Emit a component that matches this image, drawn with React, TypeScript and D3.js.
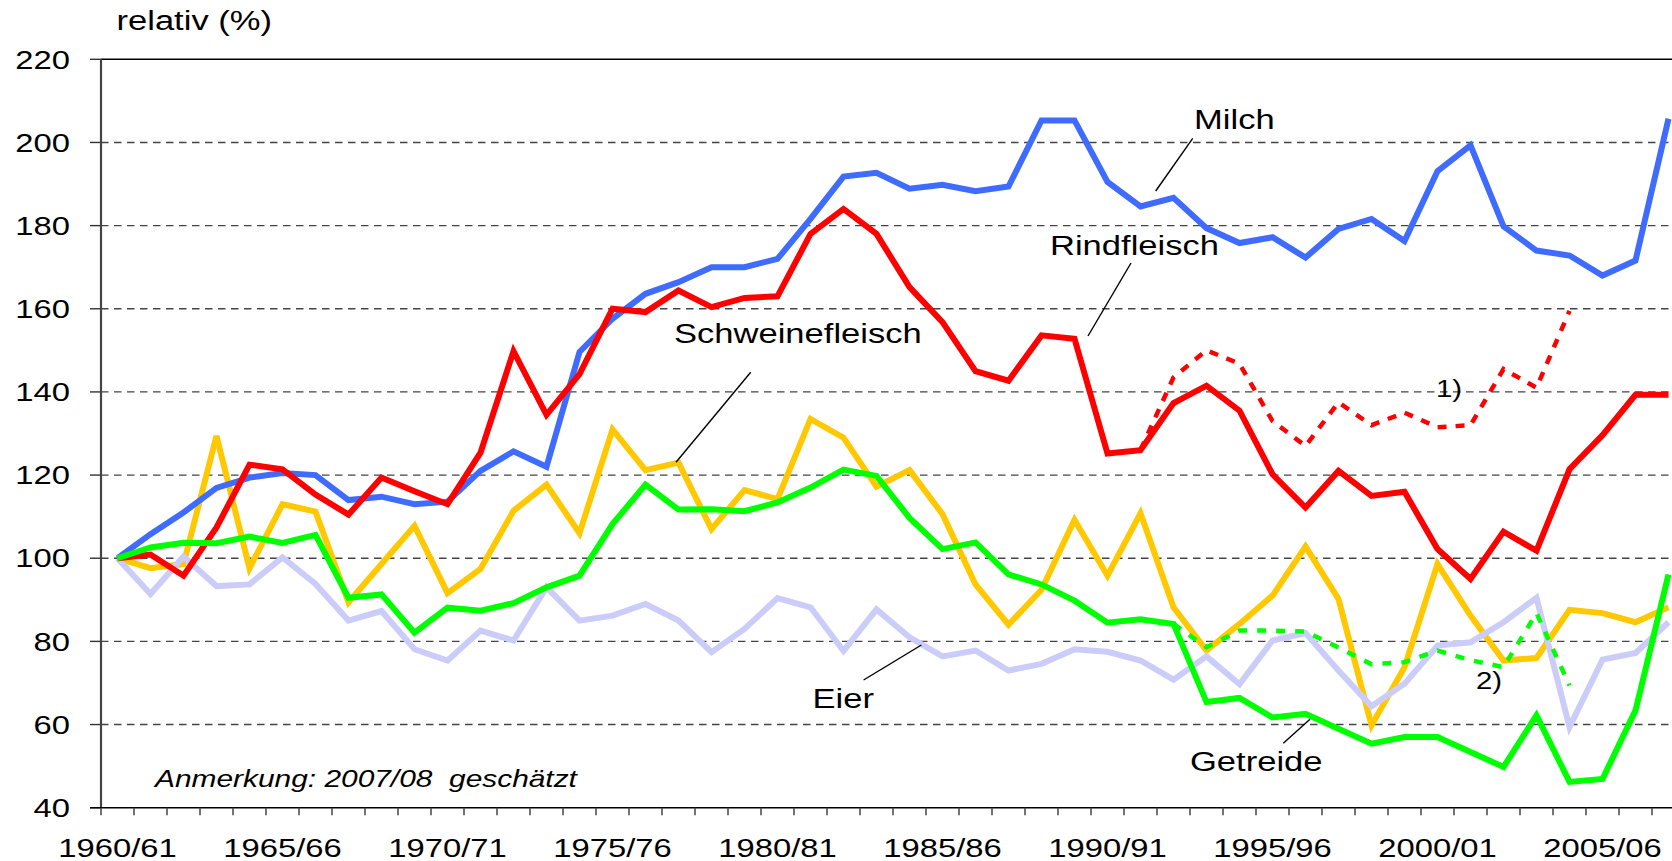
import React from "react";
import * as d3 from "d3";

const years = [
  1960, 1961, 1962, 1963, 1964, 1965, 1966, 1967, 1968, 1969,
  1970, 1971, 1972, 1973, 1974, 1975, 1976, 1977, 1978, 1979,
  1980, 1981, 1982, 1983, 1984, 1985, 1986, 1987, 1988, 1989,
  1990, 1991, 1992, 1993, 1994, 1995, 1996, 1997, 1998, 1999,
  2000, 2001, 2002, 2003, 2004, 2005, 2006, 2007,
];

const milch = [
  100, 105.8, 111, 116.9, 119.4, 120.5, 120, 114, 114.8, 113,
  113.6, 121, 125.7, 122, 149.6, 157.6, 163.6, 166.4, 170, 170,
  172, 181.6, 191.8, 192.7, 188.9, 189.8, 188.3, 189.4, 205.3, 205.3,
  190.5, 184.6, 186.7, 179.4, 175.8, 177.2, 172.3, 179.2, 181.6, 176.3,
  193.1, 199.3, 179.8, 174, 172.8, 168, 171.6, 205.7,
];

const rindfleisch = [
  100, 100.9, 95.8, 107.4, 122.5, 121.4, 115.3, 110.5, 119.4, 116.1,
  113, 125.4, 149.8, 134.5, 144.3, 160, 159.2, 164.4, 160.4, 162.6,
  163, 178, 184, 178, 165.2, 156.8, 145, 142.7, 153.6, 152.8,
  125.2, 126, 137.3, 141.5, 135.5, 120.2, 112.2, 121, 115, 116,
  102.2, 95, 106.4, 101.8, 121.4, 129.6, 139.3, 139.3,
];

// 1) variant, 1991/92 – 2004/05
const rindfleischAlt = [
  null, null, null, null, null, null, null, null, null, null,
  null, null, null, null, null, null, null, null, null, null,
  null, null, null, null, null, null, null, null, null, null,
  null, 126, 143.5, 150, 146.8, 133, 127, 137.5, 132, 135,
  131.5, 132, 145.5, 141, 159.5, null, null, null,
];

const schweinefleisch = [
  100, 97.6, 98.6, 129.4, 97.6, 113, 111.2, 89.4, 98.6, 107.8,
  91.6, 97.4, 111.4, 117.7, 106, 131, 121.2, 123, 107, 116.4,
  114.2, 133.5, 129, 117.2, 121.2, 110.6, 93.7, 84, 92.4, 109.2,
  95.8, 110.8, 88.2, 77.8, 84.2, 91, 102.8, 90.2, 59.8, 73.8,
  98.6, 86.2, 75.4, 76, 87.6, 86.8, 84.6, 88.2,
];

const getreide = [
  100, 102.6, 103.7, 103.6, 105.2, 103.7, 105.6, 90.5, 91.3, 82.1,
  88.1, 87.4, 89.2, 93, 95.8, 108.2, 117.7, 111.7, 111.8, 111.3,
  113.4, 117, 121.3, 119.8, 109.7, 102.2, 103.8, 96.1, 93.7, 89.8,
  84.5, 85.3, 84.2, 65.4, 66.4, 61.7, 62.6, 59, 55.4, 57,
  57, 53.4, 49.8, 62.2, 46.2, 46.9, 63.4, 96.1,
];

// 2) variant, 1992/93 – 2004/05
const getreideAlt = [
  null, null, null, null, null, null, null, null, null, null,
  null, null, null, null, null, null, null, null, null, null,
  null, null, null, null, null, null, null, null, null, null,
  null, null, 84.2, 78.6, 82.6, 82.6, 82.4, 78.5, 74.5, 75,
  77.8, 75.5, 73.8, 86.8, 69.4, null, null, null,
];

const eier = [
  100, 91.4, 100.4, 93.3, 93.7, 100.2, 93.8, 85, 87.3, 78.1,
  75.4, 82.6, 80.2, 93, 85, 86.2, 89, 85, 77.4, 83,
  90.4, 88.2, 77.7, 87.7, 81, 76.4, 77.8, 73, 74.6, 78.1,
  77.5, 75.4, 70.8, 76.4, 69.7, 80.2, 82, 73, 64.4, 69.8,
  79, 79.8, 84.6, 90.5, 59.4, 75.6, 77.2, 84.6,
];

const yTicks = [40, 60, 80, 100, 120, 140, 160, 180, 200, 220];
const xLabelYears = [1960, 1965, 1970, 1975, 1980, 1985, 1990, 1995, 2000, 2005];

const W = 1672;
const H = 861;
const FONT = "'Liberation Sans', Arial, Helvetica, sans-serif";
const SX = 1.28;

type Series = { values: (number | null)[]; color: string; width: number; dash?: string };

const seriesList: Series[] = [
  { values: schweinefleisch, color: "#FFC800", width: 6 },
  { values: eier, color: "#CCCCFA", width: 6 },
  { values: milch, color: "#3F6CFF", width: 6 },
  { values: rindfleisch, color: "#FF0000", width: 6 },
  { values: rindfleischAlt, color: "#FF0000", width: 4.5, dash: "9,9" },
  { values: getreide, color: "#00FF00", width: 6 },
  { values: getreideAlt, color: "#00FF00", width: 4.5, dash: "9,10" },
];

const labels = [
  { text: "Milch", x: 1194, y: 129.3, size: 27 },
  { text: "Rindfleisch", x: 1050, y: 255, size: 27 },
  { text: "Schweinefleisch", x: 674, y: 343.3, size: 27 },
  { text: "Eier", x: 812.5, y: 708.3, size: 27 },
  { text: "Getreide", x: 1190, y: 771, size: 27 },
  { text: "1)", x: 1436, y: 397, size: 23 },
  { text: "2)", x: 1476, y: 689.3, size: 23 },
];

const leaders = [
  [1192.7, 138.3, 1155.7, 191],
  [1131, 263, 1088, 336],
  [750.7, 372.3, 676, 462.3],
  [921.4, 645, 863.6, 680],
  [1310, 719.3, 1283.3, 743.3],
];

function fmtYear(y: number) {
  return `${y}/${String((y + 1) % 100).padStart(2, "0")}`;
}

export default function App() {
  const x = d3
    .scaleBand<number>()
    .domain(years)
    .range([101, 101 + years.length * 33])
    .paddingInner(0)
    .paddingOuter(0);
  const cx = (yr: number) => (x(yr) as number) + x.bandwidth() / 2;
  const y = d3.scaleLinear().domain([40, 220]).range([807.7, 59.3]);

  const line = d3
    .line<number | null>()
    .defined((d) => d != null)
    .x((_, i) => cx(years[i]))
    .y((d) => y(d as number));

  const axisX = x(years[0]) as number;
  const axisY = y(40);

  return (
    <div style={{ position: "fixed", left: 0, top: 0, width: W, height: H, background: "#fff" }}>
      <svg width={W} height={H} style={{ display: "block" }} fontFamily={FONT}>
        <rect x={0} y={0} width={W} height={H} fill="#fff" />
        {/* gridlines */}
        {yTicks.map((t) => (
          <g key={t}>
            <line x1={90} x2={axisX} y1={y(t)} y2={y(t)} stroke="#333" strokeWidth={1.4} />
            {t !== 40 && (
              <line
                x1={axisX}
                x2={W}
                y1={y(t)}
                y2={y(t)}
                stroke={t === 220 ? "#000" : "#444"}
                strokeWidth={t === 220 ? 1.6 : 1.4}
                strokeDasharray={t === 220 ? undefined : "7.5,5.5"}
              />
            )}
            <text
              transform={`translate(70,${y(t) + 9.2}) scale(${SX},1)`}
              textAnchor="end"
              fontSize={25.6}
              fill="#000"
            >
              {t}
            </text>
          </g>
        ))}
        {/* y axis */}
        <line x1={axisX} x2={axisX} y1={y(220)} y2={axisY} stroke="#444" strokeWidth={2.2} />
        {/* x axis */}
        <line x1={90} x2={W} y1={axisY} y2={axisY} stroke="#000" strokeWidth={1.6} />
        {years.map((yr) => (
          <line
            key={yr}
            x1={x(yr) as number}
            x2={x(yr) as number}
            y1={axisY}
            y2={axisY + 7.5}
            stroke="#444"
            strokeWidth={1.5}
          />
        ))}
        {xLabelYears.map((yr) => (
          <text
            key={yr}
            transform={`translate(${cx(yr)},856.7) scale(${SX},1)`}
            textAnchor="middle"
            fontSize={25.6}
            fill="#000"
          >
            {fmtYear(yr)}
          </text>
        ))}
        {/* series */}
        {seriesList.map((s, i) => (
          <path
            key={i}
            d={line(s.values) || ""}
            fill="none"
            stroke={s.color}
            strokeWidth={s.width}
            strokeDasharray={s.dash}
            strokeLinejoin="miter"
            strokeMiterlimit={3}
          />
        ))}
        {/* leader lines */}
        {leaders.map((l, i) => (
          <line key={i} x1={l[0]} y1={l[1]} x2={l[2]} y2={l[3]} stroke="#000" strokeWidth={1.4} />
        ))}
        {labels.map((l) => (
          <text
            key={l.text}
            transform={`translate(${l.x},${l.y}) scale(${SX},1)`}
            fontSize={l.size}
            fill="#000"
          >
            {l.text}
          </text>
        ))}
        <text transform={`translate(116.5,29.5) scale(${SX},1)`} fontSize={27} fill="#000">
          relativ (%)
        </text>
        <text
          transform={`translate(155,786.7) scale(1.3,1)`}
          fontSize={23}
          fontStyle="italic"
          fill="#000"
          style={{ whiteSpace: "pre" }}
        >
          {"Anmerkung: 2007/08  geschätzt"}
        </text>
      </svg>
    </div>
  );
}
